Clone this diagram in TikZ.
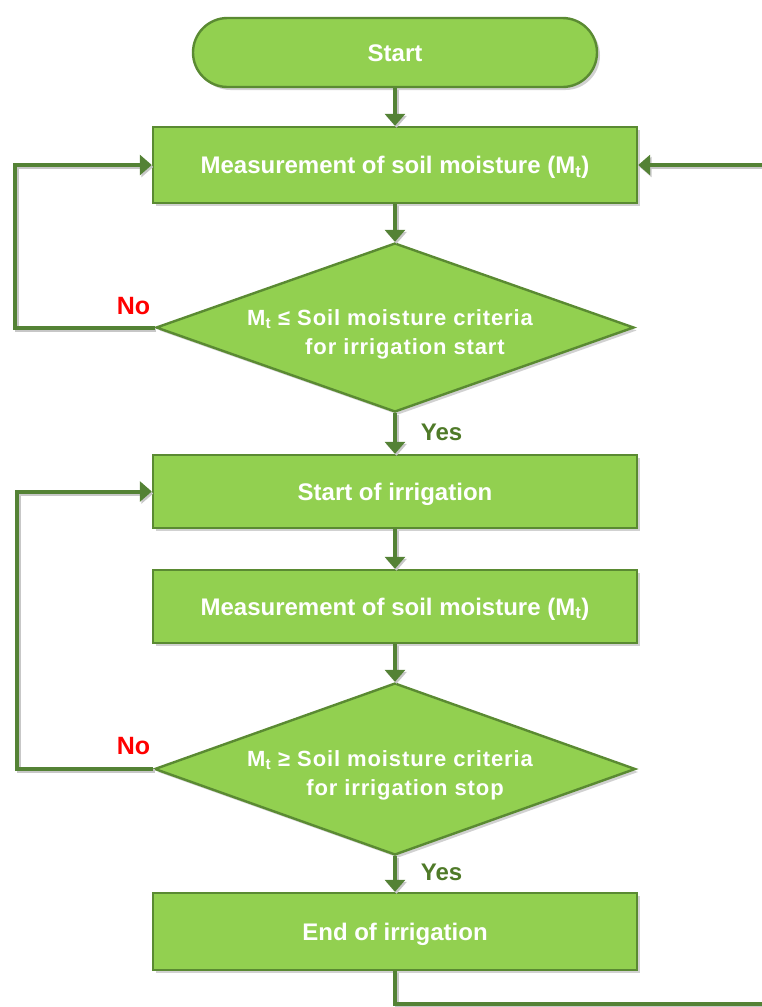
\documentclass[tikz,border=0pt]{standalone}
\usepackage{fontspec}
\setmainfont{Liberation Sans}
\newfontfamily\dfont{Liberation Sans}[LetterSpace=4]
\usetikzlibrary{shapes.geometric,shapes.misc,arrows.meta,shadows}
\definecolor{fillg}{HTML}{92D050}
\definecolor{edgeg}{HTML}{5A8A32}
\definecolor{lineg}{HTML}{548235}
\definecolor{yesg}{HTML}{4F7A28}
\definecolor{nored}{HTML}{FF0000}
\begin{document}
\begin{tikzpicture}[x=1pt,y=-1pt,
  nodeshadow/.style={drop shadow={shadow xshift=3pt,shadow yshift=-3pt,fill=black!45,opacity=0.4}},
  base/.style={draw=edgeg,line width=2.4pt,fill=fillg,text=white,inner sep=0pt,nodeshadow},
  boxnode/.style={base,rectangle,minimum width=484pt,text height=17pt,text depth=0pt,font=\bfseries\fontsize{24}{28}\selectfont},
  termnode/.style={base,rounded rectangle,minimum width=404pt,minimum height=69pt,text height=17pt,text depth=0pt,font=\bfseries\fontsize{24}{28}\selectfont},
  dianode/.style={base,diamond},
  dtext/.style={text=white,align=center,inner sep=0pt,font=\dfont\bfseries\fontsize{22}{29}\selectfont},
  conn/.style={draw=lineg,line width=4pt,preaction={draw=black!22,line width=4pt,transform canvas={shift={(1.5pt,-2pt)}}}},
  arr/.style={conn,-{Triangle[length=12pt,width=20pt]}},
  yeslbl/.style={text=yesg,inner sep=0pt,font=\bfseries\fontsize{24}{28}\selectfont},
  nolbl/.style={text=nored,inner sep=0pt,font=\bfseries\fontsize{25}{28}\selectfont}]
\useasboundingbox (0,0) rectangle (762,1007);
\clip (0,0) rectangle (762,1007);

\node[termnode] (start) at (395,52.5) {Start};
\node[boxnode,minimum height=76pt] (b1) at (395,165) {Measurement of soil moisture (M\textsubscript{t})};
\node[dianode,minimum width=478pt,minimum height=169pt] (d1) at (395,327.5) {};
\node[dtext] (t1) at (390,334) {M\textsubscript{t} ≤ Soil moisture criteria\\\hspace*{30pt}for irrigation start};
\node[boxnode,minimum height=73pt] (b2) at (395,491.5) {Start of irrigation};
\node[boxnode,minimum height=73pt] (b3) at (395,606.5) {Measurement of soil moisture (M\textsubscript{t})};
\node[dianode,minimum width=481pt,minimum height=172pt] (d2) at (395,769) {};
\node[dtext] (t2) at (390,775) {M\textsubscript{t} ≥ Soil moisture criteria\\\hspace*{30pt}for irrigation stop};
\node[boxnode,minimum height=77pt] (b4) at (395,931.5) {End of irrigation};

\node[yeslbl] (y1) at (441.5,432) {Yes};
\node[yeslbl] (y2) at (441.5,872.5) {Yes};
\node[nolbl] (n1) at (133.5,306.5) {No};
\node[nolbl] (n2) at (133.5,746.5) {No};

\coordinate (l1) at (15,327.5);
\coordinate (l2) at (17,769);
\coordinate (r1) at (790,1004);

\draw[arr] (start.south) -- (b1.north);
\draw[arr] (b1.south) -- (d1.north);
\draw[arr] (d1.west) -- (l1) |- (b1.west);
\draw[arr] (d1.south) -- (b2.north);
\draw[arr] (b2.south) -- (b3.north);
\draw[arr] (b3.south) -- (d2.north);
\draw[arr] (d2.west) -- (l2) |- (b2.west);
\draw[arr] (d2.south) -- (b4.north);
\draw[arr] (b4.south) |- (r1) |- (b1.east);
\end{tikzpicture}
\end{document}
